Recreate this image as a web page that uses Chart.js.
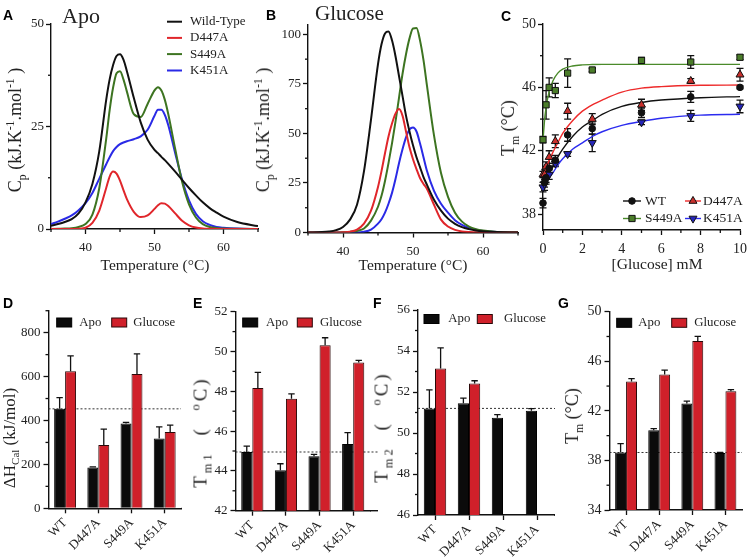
<!DOCTYPE html>
<html>
<head>
<meta charset="utf-8">
<title>DSC of wild-type and mutants</title>
<script src="https://cdn.jsdelivr.net/npm/chart.js@4.4.1/dist/chart.umd.min.js"></script>
<style>
  body { margin: 0; background: #fff; }
  #fig { position: relative; width: 752px; height: 557px; overflow: hidden;
         font-family: "Liberation Serif", "Times New Roman", serif; color: #222; }
  #fig canvas { position: absolute; left: 0; top: 0; }
  .t { position: absolute; white-space: nowrap; line-height: 1; }
  .letter { font-family: "Liberation Sans", Arial, sans-serif; font-weight: bold; font-size: 14px; color: #000; }
  .panel { font-size: 22px; }
  .yt { font-size: 18px; transform: translate(-50%, -50%) rotate(-90deg); }
  .wide { font-size: 19px; letter-spacing: 3px; word-spacing: 8px; }
  .xt { font-size: 15.5px; transform: translate(-50%, -50%); }
  sub, sup { font-size: 65%; line-height: 0; }
</style>
</head>
<body>
<div id="fig">
  <canvas id="cA" width="752" height="557"></canvas>
  <canvas id="cB" width="752" height="557"></canvas>
  <canvas id="cC" width="752" height="557"></canvas>
  <canvas id="cD" width="752" height="557"></canvas>
  <canvas id="cE" width="752" height="557"></canvas>
  <canvas id="cF" width="752" height="557"></canvas>
  <canvas id="cG" width="752" height="557"></canvas>

  <div class="t letter" style="left:3px;top:8px">A</div>
  <div class="t letter" style="left:266px;top:8px">B</div>
  <div class="t letter" style="left:501px;top:9px">C</div>
  <div class="t letter" style="left:3px;top:296px">D</div>
  <div class="t letter" style="left:193px;top:296px">E</div>
  <div class="t letter" style="left:373px;top:296px">F</div>
  <div class="t letter" style="left:558px;top:296px">G</div>

  <div class="t panel" style="left:62px;top:5px">Apo</div>
  <div class="t panel" style="left:315px;top:3px;font-size:21px">Glucose</div>

  <div class="t yt" style="left:15px;top:130px">C<sub>p</sub> (kJ.K<sup>-1</sup>.mol<sup>-1</sup> )</div>
  <div class="t yt" style="left:263px;top:130px">C<sub>p</sub> (kJ.K<sup>-1</sup>.mol<sup>-1</sup> )</div>
  <div class="t yt" style="left:508px;top:128px">T<sub>m</sub> (°C)</div>
  <div class="t yt" style="left:9px;top:438px;font-size:17px">ΔH<sub>Cal</sub> (kJ/mol)</div>
  <div class="t yt wide" style="left:200px;top:432px">T<sub>m1</sub> ( <sup>o</sup>C)</div>
  <div class="t yt wide" style="left:381px;top:427px">T<sub>m2</sub> ( <sup>o</sup>C)</div>
  <div class="t yt" style="left:572px;top:416px">T<sub>m</sub> (°C)</div>

  <div class="t xt" style="left:155px;top:265px">Temperature (°C)</div>
  <div class="t xt" style="left:413px;top:265px">Temperature (°C)</div>
  <div class="t xt" style="left:657px;top:264px">[Glucose] mM</div>
</div>
<script>
// ---- panel A : apo thermograms ----
const tempA = [35,36,37,38,39,40,41,42,43,43.5,44,44.5,45,45.5,46,47,48,49,50,50.5,51,51.5,52,53,54,55,56,57,58,59,60,62,65];
const apoWT    = [0.8,1.2,1.7,2.4,3.8,6.5,11,19,31.5,36.5,40,42.2,42.6,41.3,38.5,32,26,21.8,19.3,18.5,17.6,16.8,15.9,14,12,10,8.2,6.5,5.1,4,3,1.7,0.7];
const apoD447A = [0,0,0,0,0.05,0.3,1.5,4.5,10,12.8,14,13.5,11.8,9.5,7.3,4.2,2.9,3.3,4.9,5.8,6.3,6.2,5.6,3.8,2,0.9,0.35,0.12,0.05,0,0,0,0];
const apoS449A = [0,0.05,0.1,0.2,0.5,1.2,3.5,10,22,29,34.5,38,38.5,36.5,33.5,28,27.3,30.5,33.8,34.6,33.8,31.5,28,19.5,11.5,6,2.8,1.2,0.5,0.25,0.1,0.05,0];
const apoK451A = [1.2,1.8,2.5,3.3,4.6,6.3,8.8,12.3,15.8,17.5,19,20,20.7,21.1,21.4,21.9,22.6,24.2,27.6,29.1,29.1,27.8,25.3,18.5,12,7,3.7,1.9,1,0.5,0.3,0.1,0];

// ---- panel B : glucose thermograms ----
const tempB = [35,37,38,39,40,41,42,43,44,45,45.5,46,46.5,47,47.5,48,48.5,49,49.5,50,50.5,51,51.5,52,53,54,55,56,57,58,59,60,62,65];
const gluWT    = [0,0.2,0.5,1.2,2.8,6.5,14,31,57,85,95,100.5,101.5,97,89,79,69,59,51,44,38,33,28,24,16.5,11,7,4.4,2.7,1.7,1,0.6,0.2,0];
const gluD447A = [0,0,0,0,0.1,0.4,1.5,4.5,11,23,31,40,48.5,55,60,62.3,59,51,43,37,32,27.5,24.5,22,14,6.5,3,1.3,0.5,0.2,0.1,0,0,0];
const gluS449A = [0,0,0,0.05,0.1,0.3,0.8,2,6,13,18.5,26,35,45,56,68,80,90,98,103,103.2,97,87,74,49,30,18,10,5.5,3,1.7,1,0.3,0.1];
const gluK451A = [0,0,0,0,0,0,0,0.4,1.5,4.5,6.7,10,14.5,20,27,35,42,48,52,53,51,45,38,31,21,14.5,10,6.2,3.8,2.3,1.4,0.8,0.3,0.1];

const tempTicks = [40, 50, 60];
const tempMinor = [35, 45, 55, 65];
const cpTicksA = [0, 25, 50];
const cpMinorA = [12.5, 37.5];
const cpTicksB = [0, 25, 50, 75, 100];
const cpMinorB = [12.5, 37.5, 62.5, 87.5];

// ---- panel C : Tm vs glucose ----
const glucose = [0, 0.078, 0.156, 0.3125, 0.625, 1.25, 2.5, 5, 7.5, 10];
const tmWT    = [38.7, 40.0, 40.3, 40.9, 41.4, 43.0, 43.4, 44.4, 45.4, 46.0];
const tmD447A = [40.5, 40.5, 41.0, 41.6, 42.6, 44.5, 44.0, 44.9, 46.4, 46.8];
const tmS449A = [42.7, null, 44.9, 46.0, 45.8, 46.9, 47.1, 47.7, 47.6, 47.9];
const tmK451A = [39.7, 39.9, 40.2, 40.5, 41.2, 41.8, 42.5, 43.8, 44.2, 44.8];
const errWT    = [0.3, 0.3, 0.3, 0.3, 0.3, 0.4, 0.35, 0.3, 0.35, 0.1];
const errD447A = [0.2, 0.3, 0.3, 0.4, 0.4, 0.5, 0.35, 0.35, 0.15, 0.4];
const errS449A = [0.2, null, 0.9, 0.6, 0.45, 0.9, 0.1, 0.2, 0.4, 0.15];
const errK451A = [0.3, 0.4, 0.3, 0.3, 0.2, 0.15, 0.55, 0.15, 0.35, 0.4];
// fitted curves
const fitX      = [0, 0.1, 0.25, 0.5, 0.75, 1, 1.5, 2, 2.5, 3, 4, 5, 6, 8, 10];
const fitWT     = [39.8, 40.0, 40.4, 41.0, 41.6, 42.1, 42.9, 43.5, 43.9, 44.3, 44.8, 45.05, 45.2, 45.35, 45.42];
const fitD447A  = [40.4, 40.7, 41.2, 41.9, 42.5, 43.1, 43.9, 44.5, 44.9, 45.2, 45.7, 45.95, 46.05, 46.13, 46.15];
const fitS449A  = [42.7, 44.2, 45.4, 46.4, 46.9, 47.15, 47.35, 47.42, 47.44, 47.45, 47.45, 47.45, 47.45, 47.45, 47.45];
const fitK451A  = [39.7, 39.9, 40.2, 40.6, 41.1, 41.5, 42.1, 42.5, 42.9, 43.2, 43.6, 43.85, 44.05, 44.25, 44.3];
const glcTicks = [0, 2, 4, 6, 8, 10];
const glcMinor = [1, 3, 5, 7, 9];
const tmTicksC = [38, 42, 46, 50];
const tmMinorC = [40, 44, 48];

// ---- panels D-G : bars ----
const mutants = ['WT', 'D447A', 'S449A', 'K451A'];
const dhApo = [453, 186, 386, 318],        dhApoErr = [51, 3, 5, 53];
const dhGlu = [624, 288, 612, 348],        dhGluErr = [70, 73, 91, 31];
const tm1Apo = [44.95, 44.03, 44.73, 45.35], tm1ApoErr = [0.3, 0.33, 0.1, 0.57];
const tm1Glu = [48.17, 47.62, 50.32, 49.45], tm1GluErr = [0.78, 0.25, 0.37, 0.1];
const tm2Apo = [51.2, 51.45, 50.75, 51.09],  tm2ApoErr = [0.9, 0.25, 0.15, 0.1];
const tm2Glu = [53.15, 52.42, null, null],   tm2GluErr = [1.0, 0.13, null, null];
const tmApo = [38.64, 40.44, 42.59, 38.6],   tmApoErr = [0.72, 0.13, 0.2, 0.05];
const tmGlu = [44.36, 44.93, 47.64, 43.58],  tmGluErr = [0.24, 0.35, 0.37, 0.13];

const SERIF = '"Liberation Serif", "Times New Roman", serif';
const W = 752, H = 557;
const INK = '#111';

// draws reference line, error bars, minor ticks, axis extension and legends
const extras = {
  id: 'extras',
  beforeDatasetsDraw(chart, _, o) {
    const { ctx, chartArea: a, scales: { y } } = chart;
    ctx.save();
    if (o.refLine != null) {
      const py = y.getPixelForValue(o.refLine);
      ctx.strokeStyle = '#333'; ctx.lineWidth = 1; ctx.setLineDash([2, 2]);
      ctx.beginPath(); ctx.moveTo(a.left, py); ctx.lineTo(o.xEnd || a.right, py); ctx.stroke();
      ctx.setLineDash([]);
    }
    if (o.errors) {
      ctx.strokeStyle = INK; ctx.lineWidth = 1.3;
      const hw = o.capHalf || 3.5;
      o.errors.forEach((errs, i) => {
        if (!errs) return;
        const ds = chart.data.datasets[i];
        chart.getDatasetMeta(i).data.forEach((el, j) => {
          const raw = ds.data[j];
          const v = raw && typeof raw === 'object' ? raw.y : raw;
          const e = errs[j];
          if (v == null || e == null) return;
          const top = y.getPixelForValue(v + e);
          const bot = o.both ? y.getPixelForValue(v - e) : el.y;
          ctx.beginPath();
          ctx.moveTo(el.x, bot); ctx.lineTo(el.x, top);
          ctx.moveTo(el.x - hw, top); ctx.lineTo(el.x + hw, top);
          if (o.both) { ctx.moveTo(el.x - hw, bot); ctx.lineTo(el.x + hw, bot); }
          ctx.stroke();
        });
      });
    }
    ctx.restore();
  },
  afterDraw(chart, _, o) {
    const { ctx, chartArea: a, scales: { x, y } } = chart;
    ctx.save();
    ctx.strokeStyle = INK; ctx.lineWidth = 1.3;
    const seg = (x1, y1, x2, y2) => { ctx.beginPath(); ctx.moveTo(x1, y1); ctx.lineTo(x2, y2); ctx.stroke(); };
    (o.minorY || []).forEach(v => { const p = y.getPixelForValue(v); seg(a.left - 3, p, a.left, p); });
    (o.minorX || []).forEach(v => { const p = x.getPixelForValue(v); seg(p, a.bottom, p, a.bottom + 3); });
    if (o.xEnd) { ctx.lineWidth = 1.4; seg(a.right, a.bottom, o.xEnd, a.bottom); }
    if (o.legend) {
      const L = o.legend;
      ctx.font = L.size + 'px ' + SERIF;
      ctx.textBaseline = 'middle';
      L.items.forEach(it => {
        const ds = chart.data.datasets[it.ds];
        if (L.kind === 'box') {
          ctx.fillStyle = ds.backgroundColor;
          ctx.fillRect(it.x, it.y - 4.5, 15, 9);
          ctx.strokeStyle = ds.borderColor; ctx.lineWidth = 1;
          ctx.strokeRect(it.x, it.y - 4.5, 15, 9);
        } else {
          const lc = it.line != null ? chart.data.datasets[it.line].borderColor : ds.borderColor;
          ctx.strokeStyle = lc; ctx.lineWidth = L.lineWidth;
          seg(it.x, it.y, it.x2, it.y);
          if (L.kind === 'marker') {
            ctx.fillStyle = ds.pointBackgroundColor; ctx.strokeStyle = ds.pointBorderColor; ctx.lineWidth = 1;
            Chart.helpers.drawPoint(ctx, { pointStyle: ds.pointStyle, rotation: ds.pointRotation || 0,
              radius: ds.pointRadius, borderWidth: 1 }, (it.x + it.x2) / 2, it.y);
          }
        }
        ctx.fillStyle = '#222';
        ctx.fillText(ds.label, it.tx, it.y);
      });
    }
    ctx.restore();
  }
};
Chart.register(extras);

const pts = (xs, ys) => xs.map((x, i) => ({ x, y: ys[i] }));

function area(L, T, R, B, wy, hx) {
  return { padding: { left: L - wy, top: T, right: W - R, bottom: H - B - hx } };
}
function yAxis(min, max, ticks, wy, size, pad) {
  return {
    type: 'linear', min, max,
    afterBuildTicks: s => { s.ticks = ticks.map(v => ({ value: v })); },
    afterFit: s => { s.width = wy; s.paddingTop = 0; s.paddingBottom = 0; },
    border: { color: INK, width: 1.4 },
    grid: { drawOnChartArea: false, tickLength: 5, tickColor: INK, tickWidth: 1.3 },
    ticks: { color: '#222', font: { family: SERIF, size }, padding: pad }
  };
}
function xLinear(min, max, ticks, hx, size) {
  return {
    type: 'linear', min, max,
    afterBuildTicks: s => { s.ticks = ticks.map(v => ({ value: v })); },
    afterFit: s => { s.height = hx; s.paddingLeft = 0; s.paddingRight = 0; },
    border: { color: INK, width: 1.4 },
    grid: { drawOnChartArea: false, tickLength: 5, tickColor: INK, tickWidth: 1.3 },
    ticks: { color: '#222', font: { family: SERIF, size }, padding: 6 }
  };
}
const base = { responsive: false, animation: false, devicePixelRatio: 1, events: [] };
const noLegend = { legend: { display: false }, tooltip: { enabled: false } };

function curve(label, xs, ys, color) {
  return { label, data: pts(xs, ys), borderColor: color, borderWidth: 2, pointRadius: 0,
           cubicInterpolationMode: 'monotone', fill: false };
}

// A
new Chart(document.getElementById('cA'), {
  type: 'line',
  data: { datasets: [
    curve('Wild-Type', tempA, apoWT, '#111'),
    curve('D447A', tempA, apoD447A, '#e0262b'),
    curve('S449A', tempA, apoS449A, '#3d7421'),
    curve('K451A', tempA, apoK451A, '#2a2ae6')
  ] },
  options: { ...base, layout: area(51, 24, 258, 229, 40, 30),
    scales: { x: xLinear(35, 65, tempTicks, 30, 13), y: yAxis(0, 50, cpTicksA, 40, 13, 2) },
    plugins: { ...noLegend, extras: { minorX: tempMinor, minorY: cpMinorA,
      legend: { kind: 'line', size: 13, lineWidth: 2, items: [
        { ds: 0, x: 167, x2: 182, tx: 190, y: 21.7 },
        { ds: 1, x: 167, x2: 182, tx: 190, y: 37.9 },
        { ds: 2, x: 167, x2: 182, tx: 190, y: 54.1 },
        { ds: 3, x: 167, x2: 182, tx: 190, y: 70.5 } ] } } } }
});

// B
new Chart(document.getElementById('cB'), {
  type: 'line',
  data: { datasets: [
    curve('Wild-Type', tempB, gluWT, '#111'),
    curve('D447A', tempB, gluD447A, '#e0262b'),
    curve('S449A', tempB, gluS449A, '#3d7421'),
    curve('K451A', tempB, gluK451A, '#2a2ae6')
  ] },
  options: { ...base, layout: area(308, 24.5, 518, 232.5, 40, 30),
    scales: { x: xLinear(35, 65, tempTicks, 30, 13), y: yAxis(0, 105, cpTicksB, 40, 13, 2) },
    plugins: { ...noLegend, extras: { minorX: tempMinor, minorY: cpMinorB } } }
});

// C
function marks(label, ys, fillC, style, r, rot) {
  return { label, data: pts(glucose, ys), showLine: false, pointStyle: style, pointRadius: r,
           pointRotation: rot || 0, pointBackgroundColor: fillC, pointBorderColor: '#111',
           pointBorderWidth: 1, borderColor: fillC, backgroundColor: fillC };
}
function fit(ys, color) {
  return { label: 'fit', data: pts(fitX, ys), showLine: true, pointRadius: 0, borderColor: color,
           borderWidth: 1.4, cubicInterpolationMode: 'monotone' };
}
new Chart(document.getElementById('cC'), {
  type: 'scatter',
  data: { datasets: [
    marks('WT', tmWT, '#111', 'circle', 3.3),
    marks('D447A', tmD447A, '#c9302c', 'triangle', 4.6),
    marks('S449A', tmS449A, '#4b7d2a', 'rect', 4.4),
    marks('K451A', tmK451A, '#2626b8', 'triangle', 4.6, 180),
    fit(fitWT, '#111'), fit(fitD447A, '#ee2b2b'), fit(fitS449A, '#4a8a2a'), fit(fitK451A, '#2b2bef')
  ] },
  options: { ...base, layout: area(543, 24, 740, 230, 40, 30),
    clip: false,
    scales: { x: xLinear(0, 10, glcTicks, 30, 14), y: yAxis(37, 50, tmTicksC, 40, 14, 2) },
    plugins: { ...noLegend, extras: { minorX: glcMinor, minorY: tmMinorC, both: true, capHalf: 3.5,
      errors: [errWT, errD447A, errS449A, errK451A],
      legend: { kind: 'marker', size: 13.5, lineWidth: 1.4, items: [
        { ds: 0, line: 4, x: 623, x2: 641, tx: 645, y: 201 },
        { ds: 1, line: 5, x: 685, x2: 701, tx: 703, y: 201 },
        { ds: 2, line: 6, x: 623, x2: 641, tx: 645, y: 218.5 },
        { ds: 3, line: 7, x: 685, x2: 701, tx: 703, y: 218.5 } ] } } } }
});

// D-G
function bars(id, L, T, R, B, xEnd, apo, apoErr, glu, gluErr, yMin, yMax, yTicks, yMinor, size, leg) {
  new Chart(document.getElementById(id), {
    type: 'bar',
    data: { labels: mutants, datasets: [
      { label: 'Apo', data: apo, backgroundColor: '#0b0b0b', borderColor: '#000', borderWidth: 1,
        categoryPercentage: 0.66, barPercentage: 1 },
      { label: 'Glucose', data: glu, backgroundColor: '#d0202a', borderColor: '#2a0808', borderWidth: 1,
        categoryPercentage: 0.66, barPercentage: 1 }
    ] },
    options: { ...base, layout: area(L, T, R, B, 40, 50),
      scales: {
        x: { type: 'category', offset: true,
             afterFit: s => { s.height = 50; s.paddingLeft = 0; s.paddingRight = 0; },
             border: { color: INK, width: 1.4 },
             grid: { offset: false, drawOnChartArea: false, tickLength: 5, tickColor: INK, tickWidth: 1.3 },
             ticks: { color: '#222', font: { family: SERIF, size: 13 }, minRotation: 45, maxRotation: 45, padding: 2 } },
        y: yAxis(yMin, yMax, yTicks, 40, size, 3)
      },
      plugins: { ...noLegend, extras: { refLine: apo[0], xEnd, minorY: yMinor, capHalf: 3.2,
        errors: [apoErr, gluErr],
        legend: { kind: 'box', size: 12.8, items: [
          { ds: 0, x: leg[0], tx: leg[1], y: leg[4] },
          { ds: 1, x: leg[2], tx: leg[3], y: leg[4] } ] } } } }
  });
}
bars('cD', 48.5, 310.7, 181.3, 508.3, 181, dhApo, dhApoErr, dhGlu, dhGluErr, 0, 900,
     [0, 200, 400, 600, 800], [100, 300, 500, 700, 900], 13, [56.7, 79.3, 111.7, 133.3, 322.5]);
bars('cE', 235.5, 311.7, 370, 510.7, 378, tm1Apo, tm1ApoErr, tm1Glu, tm1GluErr, 42, 52,
     [42, 44, 46, 48, 50, 52], [43, 45, 47, 49, 51], 13, [242.7, 266, 297.3, 320, 322.5]);
bars('cF', 418, 310, 554, 515, 555, tm2Apo, tm2ApoErr, tm2Glu, tm2GluErr, 46, 56,
     [46, 48, 50, 52, 54, 56], [47, 49, 51, 53, 55], 13, [424, 448.3, 477.3, 504, 319]);
bars('cG', 609.5, 311.7, 742, 510, 742, tmApo, tmApoErr, tmGlu, tmGluErr, 34, 50,
     [34, 38, 42, 46, 50], [36, 40, 44, 48], 14, [616.7, 638.3, 671.7, 694.3, 322.8]);
</script>
</body>
</html>
